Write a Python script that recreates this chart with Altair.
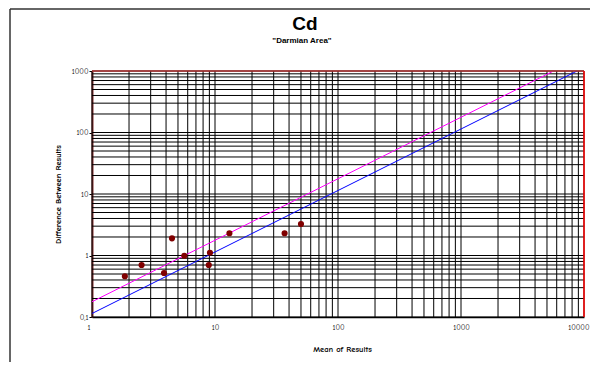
import altair as alt
import pandas as pd

# Data
mean_results = [1.85, 2.53, 3.85, 4.47, 5.63, 9.1, 8.9, 13.1, 36.8, 50.0]
diff_results = [0.46, 0.70, 0.52, 1.9, 0.99, 1.11, 0.70, 2.3, 2.3, 3.25]

line_x = [1, 10000]
blue_y = [0.114, 1140]
magenta_y = [0.177, 1770]

x_ticks = [1, 10, 100, 1000, 10000]
y_ticks = [0.1, 1, 10, 100, 1000]
x_grid = [m * 10 ** k for k in range(4) for m in range(1, 10)] + [10000]
y_grid = [round(m * 10 ** k, 4) for k in range(-1, 3) for m in range(1, 10)] + [1000]

title_text = "Cd"
subtitle_text = '"Darmian Area"'

W, H = 492, 246
LEFT, TOP = 84, 63
RIGHT = 598 - 16 - LEFT - W

pts = pd.DataFrame({"x": mean_results, "y": diff_results})
lines = pd.DataFrame({
    "x": line_x * 2,
    "y": blue_y + magenta_y,
    "s": ["blue"] * 2 + ["magenta"] * 2,
})

xs = alt.Scale(type="log", domain=[1, 10000], nice=False)
ys = alt.Scale(type="log", domain=[0.1, 1000], nice=False)

tick_font = "Comic Sans MS, Comic Neue, DejaVu Sans"

xgrid = alt.Chart(pd.DataFrame({"g": x_grid})).mark_rule(color="black", strokeWidth=1).encode(
    x=alt.X("g:Q", scale=xs,
            axis=alt.Axis(values=x_ticks, title="Mean of Results", grid=False, ticks=False,
                          labelPadding=6, labelFontSize=7.5, labelFont=tick_font,
                          labelFlush=True, labelFlushOffset=5, labelOverlap=False,
                          labelExpr="format(datum.value, '~g')",
                          domainColor="black", domainWidth=1.5,
                          titleFont=tick_font, titleFontSize=8.5, titleFontWeight="bold",
                          titleX=250, titleY=31, titleBaseline="middle", titleAlign="center"))
)
ygrid = alt.Chart(pd.DataFrame({"g": y_grid})).mark_rule(color="black", strokeWidth=1).encode(
    y=alt.Y("g:Q", scale=ys,
            axis=alt.Axis(values=y_ticks, title="Difference Between Results", grid=False,
                          tickSize=3, tickColor="black", labelPadding=1, labelFontSize=7.5,
                          labelFont=tick_font, labelFlush=False, labelOverlap=False,
                          labelExpr="replace(format(datum.value, '~g'), '.', ',')",
                          domainColor="#7f2a2a", domainWidth=2,
                          titleFont=tick_font, titleFontSize=8.5, titleFontWeight="bold",
                          titleAngle=270, titleX=-35, titleY=123,
                          titleBaseline="middle", titleAlign="center"))
)

line_layer = alt.Chart(lines).mark_line(strokeWidth=1, clip=True).encode(
    x=alt.X("x:Q", scale=xs),
    y=alt.Y("y:Q", scale=ys),
    color=alt.Color("s:N", scale=alt.Scale(domain=["blue", "magenta"], range=["#0000ff", "#ff00ff"]),
                    legend=None),
    detail="s:N",
)

pt_layer = alt.Chart(pts).mark_circle(size=38, color="#800000", opacity=1).encode(
    x=alt.X("x:Q", scale=xs),
    y=alt.Y("y:Q", scale=ys),
)

one = alt.Data(values=[{"a": 1}])
top_border = alt.Chart(one).mark_rule(color="#b03030", strokeWidth=1.5).encode(
    x=alt.value(0), x2=alt.value(W), y=alt.value(0))
right_border = alt.Chart(one).mark_rule(color="#ff0000", strokeWidth=1.5).encode(
    x=alt.value(W), y=alt.value(0), y2=alt.value(H))
frame_left = alt.Chart(one).mark_rule(color="#333333", strokeWidth=1.5).encode(
    x=alt.value(-LEFT + 2), y=alt.value(-TOP + 1), y2=alt.value(H + 200))
frame_top = alt.Chart(one).mark_rule(color="#333333", strokeWidth=1.5).encode(
    x=alt.value(-LEFT + 2), x2=alt.value(W + 200), y=alt.value(-TOP + 1))

title_mark = alt.Chart(one).mark_text(
    text=title_text, font="Liberation Sans", fontSize=19, fontWeight="bold",
    align="center", baseline="alphabetic", color="black"
).encode(x=alt.value(213), y=alt.value(-41))
subtitle_mark = alt.Chart(one).mark_text(
    text=subtitle_text, font="Liberation Sans", fontSize=8, fontWeight="bold",
    align="center", baseline="alphabetic", color="black"
).encode(x=alt.value(210), y=alt.value(-28))

chart = alt.layer(
    xgrid, ygrid, line_layer, pt_layer, top_border, right_border, frame_left, frame_top,
    title_mark, subtitle_mark
).properties(
    width=W, height=H,
    autosize=alt.AutoSizeParams(type="none"),
    padding={"left": LEFT, "top": TOP, "right": RIGHT, "bottom": 370 - 16 - TOP - H},
).configure_view(stroke=None).configure_axis(labelColor="black", titleColor="black")

chart.save("out.html", embed_options={"renderer": "svg", "actions": False})
